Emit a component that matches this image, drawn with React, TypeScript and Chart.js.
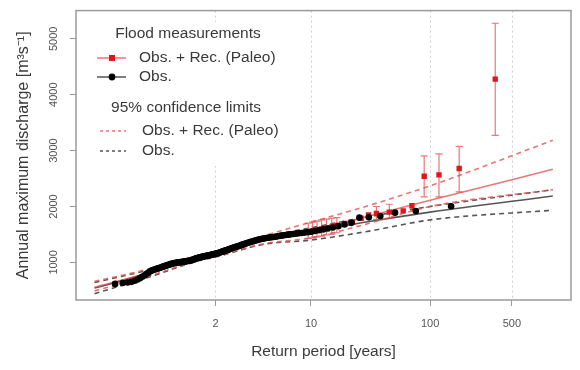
import { useEffect, useRef } from "react";
import { Chart, registerables } from "chart.js";

Chart.register(...registerables);

// ---------- data ----------
// x axis: Gumbel reduced variate, labelled by return period
const xTickPeriods = [2, 10, 100, 500];
const xTickLabels = ["2", "10", "100", "500"];
const yTicks = [1000, 2000, 3000, 4000, 5000];
const xRange = [-2.385, 7.379];
const yRange = [327, 5505];

// observed annual maxima (m3/s), sorted ascending (Weibull plotting positions)
const obsQ = [
  615, 630, 640, 652, 672, 695, 718, 742, 765, 790,
  812, 835, 852, 862, 872, 880, 888, 896, 905, 912,
  920, 928, 935, 942, 950, 956, 962, 968, 974, 980,
  984, 988, 991, 994, 997, 1000, 1002, 1004, 1006, 1009,
  1012, 1015, 1018, 1020, 1024, 1027, 1030, 1034, 1037, 1040,
  1046, 1052, 1058, 1065, 1072, 1078, 1083, 1087, 1090, 1094,
  1098, 1102, 1106, 1110, 1114, 1118, 1121, 1124, 1127, 1131,
  1135, 1139, 1143, 1147, 1151, 1156, 1161, 1166, 1172, 1178,
  1184, 1190, 1197, 1203, 1210, 1216, 1222, 1228, 1235, 1242,
  1250, 1258, 1265, 1272, 1278, 1284, 1290, 1297, 1305, 1313,
  1322, 1330, 1338, 1345, 1352, 1360, 1368, 1375, 1383, 1390,
  1398, 1405, 1412, 1418, 1424, 1430, 1435, 1440, 1445, 1450,
  1455, 1460, 1466, 1472, 1478, 1484, 1490, 1496, 1502, 1508,
  1514, 1520, 1527, 1533, 1540, 1550, 1562, 1575, 1590, 1606,
  1625, 1648, 1680, 1707, 1800, 1806, 1830, 1890, 1918, 2005,
];

// observed + reconstructed (paleo) floods: return period, discharge, uncertainty
const paleoT = [9.5, 10.3, 11.2, 12.2, 13.4, 14.8, 16.3, 19, 22, 26, 30, 35, 45, 59, 70, 89, 119, 177, 360];
const paleoQ = [1545, 1560, 1580, 1600, 1615, 1635, 1660, 1695, 1725, 1790, 1850, 1875, 1900, 1921, 2014, 2541, 2565, 2679, 4279];
const paleoLo = [1430, 1440, 1455, 1470, 1490, 1505, 1530, 1695, 1725, 1790, 1850, 1770, 1790, 1921, 2014, 2172, 2172, 2261, 3273];
const paleoHi = [1700, 1720, 1740, 1760, 1775, 1790, 1800, 1695, 1725, 1790, 1850, 2000, 2040, 1921, 2014, 2904, 2940, 3077, 5279];

// fitted distributions and 95% confidence limits (x = Gumbel reduced variate)
const curveU = [-2.02, -1, 0, 0.37, 1.3, 2.25, 3.4, 4.6, 7.02];
const paleoFit = [555, 800, 1070, 1150, 1395, 1560, 1830, 2110, 2665];
const paleoUpper = [660, 870, 1120, 1200, 1470, 1720, 2020, 2370, 3184];
const paleoLower = [490, 740, 1030, 1105, 1330, 1440, 1700, 2000, 2300];
const obsFit = [540, 795, 1070, 1150, 1390, 1540, 1730, 1900, 2189];
const obsUpper = [640, 855, 1115, 1195, 1450, 1620, 1820, 2000, 2300];
const obsLower = [440, 720, 1020, 1095, 1320, 1400, 1560, 1760, 1934];

const legendTitles = ["Flood measurements", "95% confidence limits"];
const legendLabels = ["Obs. + Rec. (Paleo)", "Obs."];

// ---------- helpers ----------
const gumbelF = (F: number) => -Math.log(-Math.log(F));
const gumbelT = (T: number) => gumbelF(1 - 1 / T);

const RED = "#e0161b";
const RED_LIGHT = "rgba(228,72,72,0.75)";
const RED_DASH = "rgba(232,90,90,0.85)";
const GREY = "#555555";
const TEXT = "#3a3a3a";
const FONT = "'Liberation Sans', Arial, Helvetica, sans-serif";

export default function App() {
  const ref = useRef<HTMLCanvasElement | null>(null);

  useEffect(() => {
    document.body.style.margin = "0";
    const canvas = ref.current;
    if (!canvas) return;

    const n = obsQ.length;
    const obsData = obsQ.map((q, i) => ({ x: gumbelF((i + 1) / (n + 1)), y: q }));
    const paleoData = paleoQ.map((q, i) => ({ x: gumbelT(paleoT[i]), y: q }));
    const curve = (vals: number[]) => vals.map((v, i) => ({ x: curveU[i], y: v }));

    const lineDs = (data: number[], color: string, dash: number[], order: number, width = 1.6) => ({
      type: "line" as const,
      data: curve(data),
      borderColor: color,
      borderWidth: width,
      borderDash: dash,
      pointRadius: 0,
      fill: false,
      cubicInterpolationMode: "monotone" as const,
      order,
    });

    const PALEO_INDEX = 1;

    const gridPlugin = {
      id: "gridAndBars",
      beforeDatasetsDraw(chart: any) {
        const { ctx, chartArea, scales } = chart;
        ctx.save();
        ctx.strokeStyle = "#cfcfcf";
        ctx.lineWidth = 1;
        ctx.setLineDash([2, 3]);
        xTickPeriods.forEach((T) => {
          const px = Math.round(scales.x.getPixelForValue(gumbelT(T))) + 0.5;
          ctx.beginPath();
          ctx.moveTo(px, chartArea.top);
          ctx.lineTo(px, chartArea.bottom);
          ctx.stroke();
        });
        ctx.restore();
      },
      beforeDatasetDraw(chart: any, args: any) {
        if (args.index !== PALEO_INDEX) return;
        const { ctx, scales } = chart;
        ctx.save();
        ctx.strokeStyle = RED_LIGHT;
        ctx.lineWidth = 1.2;
        paleoT.forEach((T, i) => {
          if (paleoHi[i] === paleoLo[i]) return;
          const px = scales.x.getPixelForValue(gumbelT(T));
          const y1 = scales.y.getPixelForValue(paleoLo[i]);
          const y2 = scales.y.getPixelForValue(paleoHi[i]);
          ctx.beginPath();
          ctx.moveTo(px, y1);
          ctx.lineTo(px, y2);
          ctx.moveTo(px - 3.5, y1);
          ctx.lineTo(px + 3.5, y1);
          ctx.moveTo(px - 3.5, y2);
          ctx.lineTo(px + 3.5, y2);
          ctx.stroke();
        });
        ctx.restore();
      },
      afterDatasetsDraw(chart: any) {
        const { ctx } = chart;
        ctx.save();
        ctx.fillStyle = "#ffffff";
        ctx.fillRect(86, 22, 196, 144);
        ctx.font = `15.5px ${FONT}`;
        ctx.fillStyle = TEXT;
        ctx.textBaseline = "middle";
        ctx.textAlign = "center";
        ctx.fillText(legendTitles[0], 188, 34);
        ctx.fillText(legendTitles[1], 186, 108);
        ctx.textAlign = "left";
        ctx.fillText(legendLabels[0], 139, 58);
        ctx.fillText(legendLabels[1], 139, 77);
        ctx.fillText(legendLabels[0], 142, 131);
        ctx.fillText(legendLabels[1], 142, 151);
        // symbols
        ctx.lineWidth = 1.5;
        ctx.strokeStyle = RED_LIGHT;
        ctx.beginPath();
        ctx.moveTo(97, 58);
        ctx.lineTo(126, 58);
        ctx.stroke();
        ctx.fillStyle = RED;
        ctx.fillRect(109, 55, 6, 6);
        ctx.strokeStyle = GREY;
        ctx.beginPath();
        ctx.moveTo(97, 77);
        ctx.lineTo(126, 77);
        ctx.stroke();
        ctx.fillStyle = "#000";
        ctx.beginPath();
        ctx.arc(112, 77, 3.4, 0, Math.PI * 2);
        ctx.fill();
        ctx.setLineDash([3, 3]);
        ctx.strokeStyle = RED_DASH;
        ctx.beginPath();
        ctx.moveTo(100, 131);
        ctx.lineTo(126, 131);
        ctx.stroke();
        ctx.strokeStyle = GREY;
        ctx.beginPath();
        ctx.moveTo(100, 151);
        ctx.lineTo(126, 151);
        ctx.stroke();
        ctx.restore();
      },
      afterDraw(chart: any) {
        const { ctx, chartArea } = chart;
        ctx.save();
        ctx.strokeStyle = "#9a9a9a";
        ctx.lineWidth = 1.5;
        ctx.strokeRect(chartArea.left, chartArea.top, chartArea.right - chartArea.left, chartArea.bottom - chartArea.top);
        ctx.restore();
      },
    };

    Chart.defaults.font.family = FONT;

    const chart = new Chart(canvas, {
      type: "scatter",
      data: {
        datasets: [
          {
            type: "scatter",
            data: obsData,
            pointStyle: "circle",
            pointRadius: 3.3,
            backgroundColor: "#000",
            borderWidth: 0,
            order: 0,
          },
          {
            type: "scatter",
            data: paleoData,
            pointStyle: "rect",
            pointRadius: 3.8,
            backgroundColor: RED,
            borderWidth: 0,
            order: 1,
          },
          lineDs(paleoFit, RED_LIGHT, [], 2),
          lineDs(paleoUpper, RED_DASH, [5, 4], 3),
          lineDs(paleoLower, RED_DASH, [5, 4], 4),
          lineDs(obsFit, GREY, [], 5),
          lineDs(obsUpper, GREY, [5, 4], 6),
          lineDs(obsLower, GREY, [5, 4], 7),
        ] as any,
      },
      options: {
        responsive: false,
        animation: false,
        layout: { padding: { left: 0, right: 9, top: 10, bottom: 0 } },
        plugins: { legend: { display: false }, tooltip: { enabled: false } },
        scales: {
          x: {
            type: "linear",
            min: xRange[0],
            max: xRange[1],
            afterBuildTicks: (s: any) => {
              s.ticks = xTickPeriods.map((T) => ({ value: gumbelT(T) }));
            },
            afterFit: (s: any) => {
              s.height = 70;
            },
            ticks: {
              autoSkip: false,
              maxRotation: 0,
              padding: 11,
              color: "#555",
              font: { size: 11 },
              callback: (_v: any, i: number) => xTickLabels[i],
            },
            grid: { drawOnChartArea: false, drawTicks: true, tickLength: 6, color: "#999" },
            border: { display: false },
            title: {
              display: true,
              text: "Return period [years]",
              color: TEXT,
              font: { size: 15.5 },
              padding: { top: 0, bottom: 9 },
            },
          },
          y: {
            type: "linear",
            min: yRange[0],
            max: yRange[1],
            afterBuildTicks: (s: any) => {
              s.ticks = yTicks.map((v) => ({ value: v }));
            },
            afterFit: (s: any) => {
              s.width = 76;
            },
            ticks: {
              autoSkip: false,
              minRotation: 90,
              maxRotation: 90,
              crossAlign: "center",
              padding: 4,
              color: "#555",
              font: { size: 11 },
              callback: (v: any) => String(v),
            },
            grid: { drawOnChartArea: false, drawTicks: true, tickLength: 6, color: "#999" },
            border: { display: false },
            title: {
              display: true,
              text: "Annual maximum discharge [m³s⁻¹]",
              color: TEXT,
              font: { size: 16 },
              padding: { top: 14, bottom: 0 },
            },
          },
        },
      } as any,
      plugins: [gridPlugin],
    });

    return () => chart.destroy();
  }, []);

  return (
    <div style={{ width: 580, height: 370 }}>
      <canvas ref={ref} width={580} height={370} style={{ display: "block" }} />
    </div>
  );
}
